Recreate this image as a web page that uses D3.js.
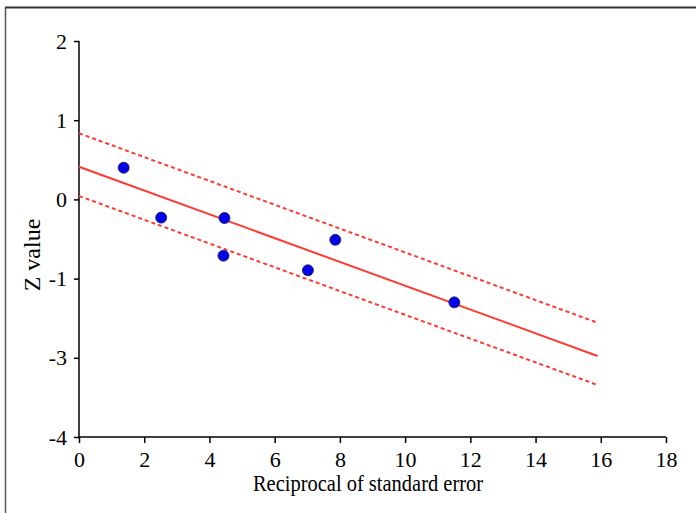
<!DOCTYPE html>
<html>
<head>
<meta charset="utf-8">
<script src="https://cdn.jsdelivr.net/npm/d3@7"></script>
<style>
  body { margin: 0; background: #fff; }
  svg { display: block; }
  text { font-family: "Liberation Serif", "Times New Roman", serif; fill: #000; }
</style>
</head>
<body>
<div id="chart"></div>
<script>
// points
const precision = [1.37, 2.52, 4.46, 4.43, 7.02, 7.86, 11.51];
const zValue = [0.40, -0.23, -0.235, -0.71, -0.895, -0.51, -1.30];

// regression line and its band, start and end
const lineX = [0, 15.9];
const fitY = [0.413, -1.977];
const upperY = [0.835, -1.557];
const lowerY = [0.043, -2.343];

const xTicks = [0, 2, 4, 6, 8, 10, 12, 14, 16, 18];
const yTicks = [2, 1, 0, -1, -2, -3];
// the original figure labels the axis this way
const yTickLabels = ['2', '1', '0', '-1', '-3', '-4'];

const w = 696;
const h = 513;

const svg = d3.select('#chart')
  .append('svg')
  .attr('width', w)
  .attr('height', h);

// frame (top and left edges only are visible)
svg.append('line')
  .attr('x1', 5).attr('x2', w).attr('y1', 7.5).attr('y2', 7.5)
  .attr('stroke', '#333').attr('stroke-width', 2);
svg.append('line')
  .attr('x1', 5.5).attr('x2', 5.5).attr('y1', 7).attr('y2', h)
  .attr('stroke', '#555').attr('stroke-width', 1.5);

const x = d3.scaleLinear().domain([0, 18]).range([79, 666]);
const y = d3.scaleLinear().domain([-3, 2]).range([437, 41]);

const xAxis = svg.append('g')
  .attr('transform', `translate(0,${y(-3)})`)
  .call(d3.axisBottom(x).tickValues(xTicks).tickSize(6).tickPadding(8));

const yAxis = svg.append('g')
  .attr('transform', `translate(${x(0)},0)`)
  .call(d3.axisLeft(y).tickValues(yTicks)
    .tickFormat((d, i) => yTickLabels[i]).tickSize(5).tickPadding(7));

[xAxis, yAxis].forEach((g) => {
  g.selectAll('path, line').attr('stroke', '#000').attr('stroke-width', 1.5);
  g.selectAll('text').style('font-size', '22px').attr('fill', '#000');
});
xAxis.select('.domain').attr('d', `M${x(0)},0H${x(18)}`);
yAxis.select('.domain').attr('d', `M0,${y(2)}V${y(-3)}`);

const line = d3.line()
  .x((d) => x(d[0]))
  .y((d) => y(d[1]));

const series = [
  { ys: upperY, dash: '4,3' },
  { ys: fitY, dash: null },
  { ys: lowerY, dash: '4,3' },
];

svg.selectAll('path.fit')
  .data(series)
  .enter()
  .append('path')
  .attr('class', 'fit')
  .attr('d', (s) => line(lineX.map((v, i) => [v, s.ys[i]])))
  .attr('fill', 'none')
  .attr('stroke', '#ff3b30')
  .attr('stroke-width', 2)
  .attr('stroke-dasharray', (s) => s.dash);

svg.selectAll('circle')
  .data(precision)
  .enter()
  .append('circle')
  .attr('cx', (d) => x(d))
  .attr('cy', (d, i) => y(zValue[i]))
  .attr('r', 5.5)
  .attr('fill', '#0000ee')
  .attr('stroke', '#1a1a4a')
  .attr('stroke-width', 0.8);

// axis titles are a bit narrow in the original, squeeze them horizontally
svg.append('text')
  .attr('transform', 'translate(368,491) scale(0.89,1)')
  .attr('text-anchor', 'middle')
  .style('font-size', '23px')
  .text('Reciprocal of standard error');

svg.append('text')
  .attr('transform', 'translate(40,255) rotate(-90)')
  .attr('text-anchor', 'middle')
  .style('font-size', '24px')
  .text('Z value');
</script>
</body>
</html>
